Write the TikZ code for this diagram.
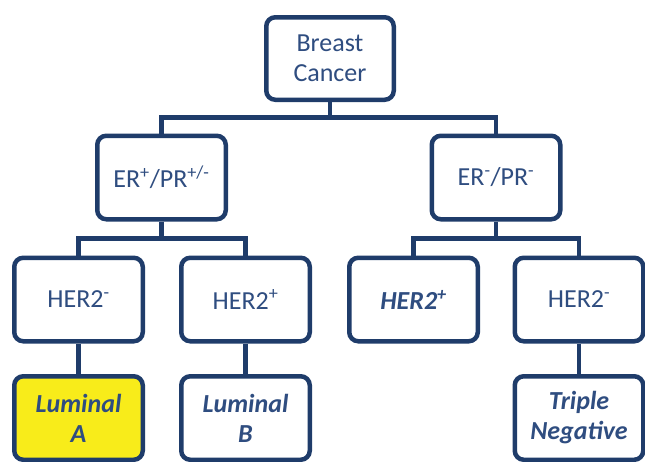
\documentclass[tikz,border=0pt]{standalone}
\usepackage{fontspec}
\setmainfont{Carlito}
\usepackage{xcolor}
\usepackage{tikz}
\usetikzlibrary{positioning,calc}

\definecolor{navy}{HTML}{1F3C6A}
\definecolor{labelblue}{HTML}{2F4D80}
\definecolor{lumyellow}{HTML}{F8EC1A}

\begin{document}
\begin{tikzpicture}[
    x=1pt, y=-1pt,
    box/.style={rectangle, draw=navy, line width=4.5pt, rounded corners=9pt, fill=white, minimum width=128.5pt, minimum height=83.5pt, inner sep=0pt, align=center, text=labelblue, font=\fontsize{26}{30}\selectfont},
    leaf/.style={box, font=\fontsize{26}{30}\selectfont\bfseries\itshape},
    link/.style={draw=navy, line width=4.5pt}
]
\useasboundingbox (0,0) rectangle (645,461);

% Root
\node[box, minimum width=127.5pt, minimum height=82.5pt] (root) at (330,58.5) {Breast\\Cancer};

% Receptor status
\node[box] (erpos) at (161.5,177.5) {ER\textsuperscript{+}/PR\textsuperscript{+/-}};
\node[box] (erneg) at (496,177.5)   {ER\textsuperscript{-}/PR\textsuperscript{-}};

% HER2 status
\node[box]  (posneg) at (78.5,299.5)  {HER2\textsuperscript{-}};
\node[box]  (pospos) at (245.5,299.5) {HER2\textsuperscript{+}};
\node[leaf] (negpos) at (413.5,299.5) {HER2\textsuperscript{+}};
\node[box]  (negneg) at (579,299.5)   {HER2\textsuperscript{-}};

% Subtypes
\node[leaf, fill=lumyellow] (luma)   at (78.5,418)  {Luminal\\A};
\node[leaf]                 (lumb)   at (245.5,418) {Luminal\\B};
\node[leaf]                 (triple) at (579,418)   {Triple\\Negative};

% Connectors
\draw[link] (root.south) -- ++(0,15.5) -| (erpos.north);
\draw[link] (root.south) -- ++(0,15.5) -| (erneg.north);
\draw[link] (erpos.south) -- ++(0,17) -| (posneg.north);
\draw[link] (erpos.south) -- ++(0,17) -| (pospos.north);
\draw[link] (erneg.south) -- ++(0,17) -| (negpos.north);
\draw[link] (erneg.south) -- ++(0,17) -| (negneg.north);
\draw[link] (posneg) -- (luma);
\draw[link] (pospos) -- (lumb);
\draw[link] (negneg) -- (triple);

\end{tikzpicture}
\end{document}
